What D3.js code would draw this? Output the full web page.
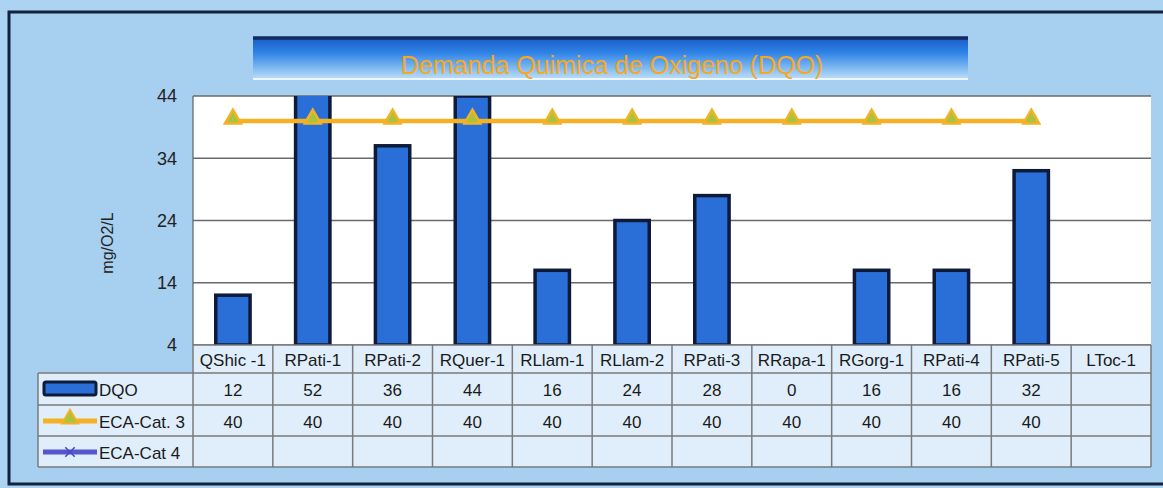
<!DOCTYPE html>
<html>
<head>
<meta charset="utf-8">
<script src="https://cdn.jsdelivr.net/npm/d3@7"></script>
<style>
  body { margin: 0; background: #a9d1f1; }
  svg { display: block; font-family: "Liberation Sans", Arial, sans-serif; }
</style>
</head>
<body>
<div id="chart"></div>
<script>
// data
var categories = ['QShic -1', 'RPati-1', 'RPati-2', 'RQuer-1', 'RLlam-1', 'RLlam-2',
  'RPati-3', 'RRapa-1', 'RGorg-1', 'RPati-4', 'RPati-5', 'LToc-1'];
var dqo = [12, 52, 36, 44, 16, 24, 28, 0, 16, 16, 32, null];
var ecaCat3 = [40, 40, 40, 40, 40, 40, 40, 40, 40, 40, 40, null];
var ecaCat4 = [null, null, null, null, null, null, null, null, null, null, null, null];
var yTicks = [4, 14, 24, 34, 44];
var title = 'Demanda Quimica de Oxigeno (DQO)';
var yTitle = 'mg/O2/L';

var W = 1163, H = 488;
var plot = {left: 193, right: 1151, top: 96, bottom: 345};
var rowH = [373, 405, 436, 467]; // table row bottoms (categories, DQO, ECA3, ECA4)
var legendLeft = 38;

var svg = d3.select('#chart').append('svg')
  .attr('width', W)
  .attr('height', H);

var defs = svg.append('defs');
var g1 = defs.append('linearGradient').attr('id', 'banner')
  .attr('x1', 0).attr('y1', 0).attr('x2', 0).attr('y2', 1);
g1.append('stop').attr('offset', '0%').attr('stop-color', '#1a5cc6');
g1.append('stop').attr('offset', '35%').attr('stop-color', '#2f83e6');
g1.append('stop').attr('offset', '80%').attr('stop-color', '#93c6f3');
g1.append('stop').attr('offset', '100%').attr('stop-color', '#c4e0f8');

var clip = defs.append('clipPath').attr('id', 'plotclip');
clip.append('rect')
  .attr('x', plot.left).attr('y', plot.top)
  .attr('width', plot.right - plot.left).attr('height', plot.bottom - plot.top);

// background + outer frame
svg.append('rect').attr('width', W).attr('height', H).attr('fill', '#acd4f2');
svg.append('rect')
  .attr('x', 9).attr('y', 12).attr('width', 1175).attr('height', 472)
  .attr('fill', '#a7cff0')
  .attr('stroke', '#13213f').attr('stroke-width', 3);

// title banner
svg.append('rect')
  .attr('x', 253).attr('y', 38).attr('width', 715).attr('height', 42)
  .attr('fill', 'url(#banner)');
svg.append('line')
  .attr('x1', 253).attr('x2', 968).attr('y1', 38).attr('y2', 38)
  .attr('stroke', '#122a62').attr('stroke-width', 3.5);
svg.append('line')
  .attr('x1', 253).attr('x2', 968).attr('y1', 79).attr('y2', 79)
  .attr('stroke', '#eef6ff').attr('stroke-width', 2);
svg.append('text')
  .attr('x', 612).attr('y', 74)
  .attr('text-anchor', 'middle')
  .attr('font-size', 25)
  .attr('fill', '#f7a81e')
  .text(title);

// scales
var x = d3.scaleBand().domain(categories).range([plot.left, plot.right]);
var y = d3.scaleLinear().domain([4, 44]).range([plot.bottom, plot.top]);
var barW = x.bandwidth() * 0.43;

// plot area
svg.append('rect')
  .attr('x', plot.left).attr('y', plot.top)
  .attr('width', plot.right - plot.left).attr('height', plot.bottom - plot.top)
  .attr('fill', '#ffffff');

svg.append('g').selectAll('line')
  .data(yTicks)
  .enter()
  .append('line')
  .attr('x1', plot.left).attr('x2', plot.right)
  .attr('y1', function (d) { return y(d); })
  .attr('y2', function (d) { return y(d); })
  .attr('stroke', '#6a6a6a').attr('stroke-width', 1.3);

svg.append('line')
  .attr('x1', plot.left).attr('x2', plot.left)
  .attr('y1', plot.top).attr('y2', plot.bottom)
  .attr('stroke', '#6a6a6a').attr('stroke-width', 1.3);

// y axis labels
var yAxis = d3.axisLeft(y).tickValues(yTicks).tickSize(0).tickPadding(16);
var ya = svg.append('g')
  .attr('transform', 'translate(' + plot.left + ',0)')
  .call(yAxis);
ya.select('.domain').remove();
ya.selectAll('text')
  .attr('font-size', 18)
  .attr('font-family', '"Liberation Sans", Arial, sans-serif')
  .attr('fill', '#222');

svg.append('text')
  .attr('transform', 'translate(113,243) rotate(-90)')
  .attr('text-anchor', 'middle')
  .attr('font-size', 16)
  .attr('fill', '#222')
  .text(yTitle);

// bars
var bars = svg.append('g').attr('clip-path', 'url(#plotclip)');
bars.selectAll('rect')
  .data(categories.map(function (c, i) { return {c: c, v: dqo[i]}; })
    .filter(function (d) { return d.v !== null && d.v > 4; }))
  .enter()
  .append('rect')
  .attr('x', function (d) { return x(d.c) + (x.bandwidth() - barW) / 2; })
  .attr('y', function (d) { return y(Math.min(d.v, 46)); })
  .attr('width', barW)
  .attr('height', function (d) { return plot.bottom - y(Math.min(d.v, 46)); })
  .attr('fill', '#2a6fd8')
  .attr('stroke', '#0d1b38')
  .attr('stroke-width', 3.5);

// ECA-Cat. 3 line
var eca3Pts = categories.map(function (c, i) { return {c: c, v: ecaCat3[i]}; })
  .filter(function (d) { return d.v !== null; });
var line = d3.line()
  .x(function (d) { return x(d.c) + x.bandwidth() / 2; })
  .y(function (d) { return y(d.v); });
svg.append('path')
  .datum(eca3Pts)
  .attr('d', line)
  .attr('fill', 'none')
  .attr('stroke', '#f5b124')
  .attr('stroke-width', 4.5);

var tri = d3.symbol().type(d3.symbolTriangle).size(110);
svg.append('g').selectAll('path')
  .data(eca3Pts)
  .enter()
  .append('path')
  .attr('d', tri)
  .attr('transform', function (d) {
    return 'translate(' + (x(d.c) + x.bandwidth() / 2) + ',' + (y(d.v) - 2) + ')';
  })
  .attr('fill', '#a9c43c')
  .attr('stroke', '#f3b226')
  .attr('stroke-width', 2.5);

// data table
var table = svg.append('g');
var rows = [
  {name: 'DQO', vals: dqo},
  {name: 'ECA-Cat. 3', vals: ecaCat3},
  {name: 'ECA-Cat 4', vals: ecaCat4}
];

// cell backgrounds
table.append('rect')
  .attr('x', plot.left).attr('y', plot.bottom)
  .attr('width', plot.right - plot.left).attr('height', rowH[0] - plot.bottom)
  .attr('fill', '#dfeefa');
table.append('rect')
  .attr('x', legendLeft).attr('y', rowH[0])
  .attr('width', plot.right - legendLeft).attr('height', rowH[3] - rowH[0])
  .attr('fill', '#dfeefa');

var gridColor = '#7a7a7a';
// horizontal rules
table.append('line')
  .attr('x1', plot.left).attr('x2', plot.right)
  .attr('y1', plot.bottom).attr('y2', plot.bottom)
  .attr('stroke', gridColor).attr('stroke-width', 1.5);
table.selectAll('line.h')
  .data(rowH)
  .enter()
  .append('line')
  .attr('class', 'h')
  .attr('x1', legendLeft).attr('x2', plot.right)
  .attr('y1', function (d) { return d; })
  .attr('y2', function (d) { return d; })
  .attr('stroke', gridColor).attr('stroke-width', 1.5);
// vertical rules
var vx = categories.map(function (c) { return x(c); }).concat([plot.right]);
table.selectAll('line.v')
  .data(vx)
  .enter()
  .append('line')
  .attr('class', 'v')
  .attr('x1', function (d) { return d; })
  .attr('x2', function (d) { return d; })
  .attr('y1', plot.bottom).attr('y2', rowH[3])
  .attr('stroke', gridColor).attr('stroke-width', 1.5);
table.append('line')
  .attr('x1', legendLeft).attr('x2', legendLeft)
  .attr('y1', rowH[0]).attr('y2', rowH[3])
  .attr('stroke', gridColor).attr('stroke-width', 1.5);

// category labels
table.selectAll('text.cat')
  .data(categories)
  .enter()
  .append('text')
  .attr('class', 'cat')
  .attr('x', function (d) { return x(d) + x.bandwidth() / 2; })
  .attr('y', plot.bottom + 21)
  .attr('text-anchor', 'middle')
  .attr('font-size', 17)
  .attr('fill', '#1a1a1a')
  .text(function (d) { return d; });

// values
rows.forEach(function (r, ri) {
  var top = rowH[ri];
  table.selectAll('text.r' + ri)
    .data(categories.map(function (c, i) { return {c: c, v: r.vals[i]}; })
      .filter(function (d) { return d.v !== null; }))
    .enter()
    .append('text')
    .attr('class', 'r' + ri)
    .attr('x', function (d) { return x(d.c) + x.bandwidth() / 2; })
    .attr('y', top + 23)
    .attr('text-anchor', 'middle')
    .attr('font-size', 17)
    .attr('fill', '#1a1a1a')
    .text(function (d) { return d.v; });

  table.append('text')
    .attr('x', 99)
    .attr('y', top + 23)
    .attr('font-size', 17)
    .attr('fill', '#1a1a1a')
    .text(r.name);
});

// legend keys
table.append('rect')
  .attr('x', 44).attr('y', rowH[0] + 9).attr('width', 52).attr('height', 13)
  .attr('rx', 2)
  .attr('fill', '#2a6fd8')
  .attr('stroke', '#0d1b38').attr('stroke-width', 3);

var k2y = rowH[1] + 16;
table.append('line')
  .attr('x1', 43).attr('x2', 97).attr('y1', k2y).attr('y2', k2y)
  .attr('stroke', '#f5b124').attr('stroke-width', 5);
table.append('path')
  .attr('d', tri)
  .attr('transform', 'translate(70,' + (k2y - 2) + ')')
  .attr('fill', '#a9c43c')
  .attr('stroke', '#f3b226').attr('stroke-width', 2);

var k3y = rowH[2] + 16;
table.append('line')
  .attr('x1', 43).attr('x2', 97).attr('y1', k3y).attr('y2', k3y)
  .attr('stroke', '#5756cc').attr('stroke-width', 5);
table.append('path')
  .attr('d', d3.symbol().type(d3.symbolTimes).size(60))
  .attr('transform', 'translate(70,' + k3y + ')')
  .attr('fill', 'none')
  .attr('stroke', '#4a48c0').attr('stroke-width', 1.5);
</script>
</body>
</html>
